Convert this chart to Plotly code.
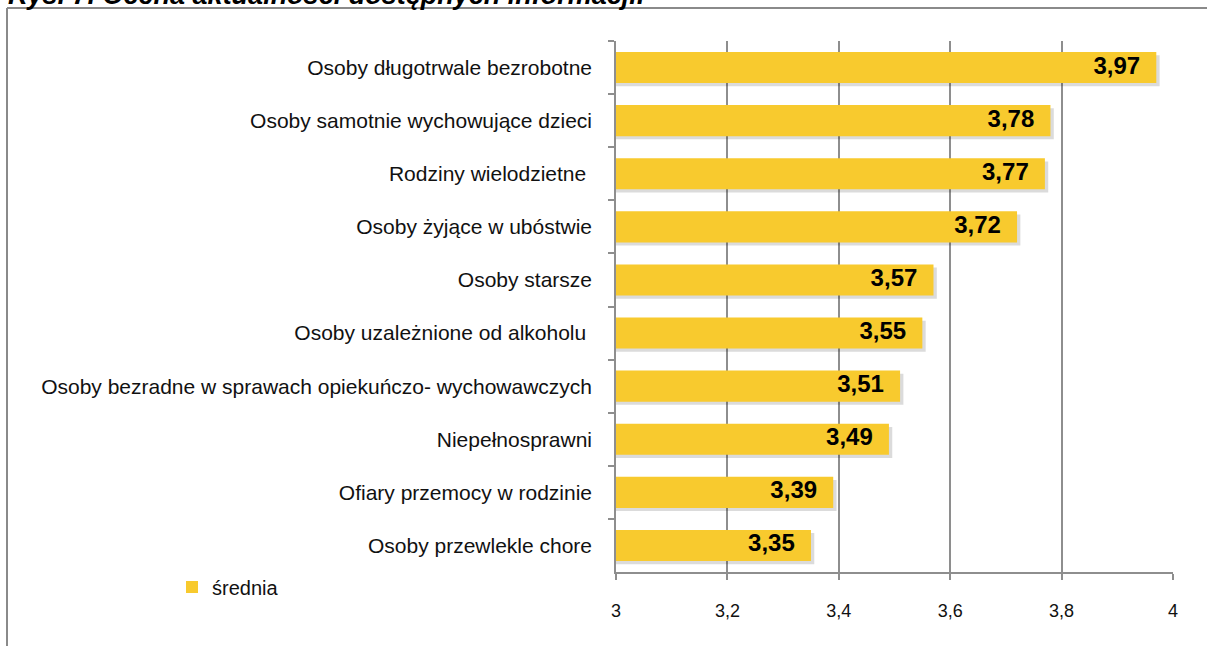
import plotly.graph_objects as go

categories = [
    "Osoby długotrwale bezrobotne",
    "Osoby samotnie wychowujące dzieci",
    "Rodziny wielodzietne\u00a0",
    "Osoby żyjące w ubóstwie",
    "Osoby starsze",
    "Osoby uzależnione od alkoholu\u00a0",
    "Osoby bezradne w sprawach opiekuńczo- wychowawczych",
    "Niepełnosprawni",
    "Ofiary przemocy w rodzinie",
    "Osoby przewlekle chore",
]
values = [3.97, 3.78, 3.77, 3.72, 3.57, 3.55, 3.51, 3.49, 3.39, 3.35]
value_labels = ["3,97", "3,78", "3,77", "3,72", "3,57", "3,55", "3,51", "3,49", "3,39", "3,35"]
series_name = "średnia"
x_ticks = [3, 3.2, 3.4, 3.6, 3.8, 4]
title_text = "Rys. 7. Ocena aktualności dostępnych informacji."

W, H = 1207, 646
L, R, T, B = 616, 1173, 41, 572
pw, ph = R - L, B - T

def px_x(sx):
    return (sx - L) / pw

def px_y(sy):
    return (B - sy) / ph

bar_color = "#F8CA2E"
grid_color = "#8E8E8E"
font_family = "Liberation Sans, Arial, sans-serif"

fig = go.Figure()

# soft drop shadow
fig.add_trace(go.Bar(
    y=categories, x=[v + 0.006 for v in values], orientation="h",
    width=0.585, offset=-0.2925 + 0.06,
    marker=dict(color="rgba(0,0,0,0.14)", line=dict(width=0)),
    showlegend=False, hoverinfo="skip",
))
fig.add_trace(go.Bar(
    y=categories, x=values, orientation="h", name=series_name,
    width=0.585, offset=-0.2925,
    marker=dict(color=bar_color, line=dict(width=0)),
))
fig.add_trace(go.Scatter(
    y=categories, x=[v - 0.029 for v in values], mode="text",
    text=["<b>" + t + "</b>" for t in value_labels],
    textposition="middle left",
    textfont=dict(size=24, color="black", family=font_family),
    showlegend=False, hoverinfo="skip",
))

fig.update_layout(
    width=W, height=H,
    margin=dict(l=L, r=W - R, t=T, b=H - B, pad=0),
    paper_bgcolor="white", plot_bgcolor="white",
    barmode="overlay",
    separators=", ",
    font=dict(family=font_family, size=18, color="#111111"),
    showlegend=True,
    legend=dict(x=px_x(172), y=px_y(587), xanchor="left", yanchor="middle",
                font=dict(size=20, color="#111111"), bgcolor="rgba(0,0,0,0)",
                itemwidth=30, tracegroupgap=0),
    xaxis=dict(range=[3, 4], tickvals=x_ticks, showgrid=True, gridcolor=grid_color,
               gridwidth=1.5, showline=True, linecolor=grid_color, linewidth=1.5,
               ticks="outside", ticklen=6, tickcolor=grid_color, tickwidth=1.5,
               ticklabelstandoff=16, tickfont=dict(size=18, color="#111111"),
               zeroline=False, fixedrange=True),
    yaxis=dict(autorange="reversed", showline=True, linecolor=grid_color, linewidth=1.5,
               ticks="outside", ticklen=6, tickcolor=grid_color, tickwidth=1.5,
               tickson="boundaries", ticklabelstandoff=18,
               tickfont=dict(size=21, color="#111111"), showgrid=False,
               fixedrange=True),
    shapes=[
        dict(type="line", xref="paper", yref="paper", x0=px_x(7), x1=px_x(7),
             y0=px_y(8), y1=px_y(660), line=dict(color="#8A8A8A", width=2)),
        dict(type="line", xref="paper", yref="paper", x0=px_x(7), x1=px_x(1220),
             y0=px_y(8), y1=px_y(8), line=dict(color="#8A8A8A", width=2)),
    ],
    annotations=[
        dict(text="<b><i>" + title_text + "</i></b>", xref="paper", yref="paper",
             x=px_x(6), y=px_y(12), xanchor="left", yanchor="bottom", showarrow=False,
             font=dict(size=27, color="black", family=font_family)),
    ],
)

fig.write_html("out.html", config={"displayModeBar": False},
               post_script="document.body.style.margin='0px';document.body.style.overflow='hidden';")
